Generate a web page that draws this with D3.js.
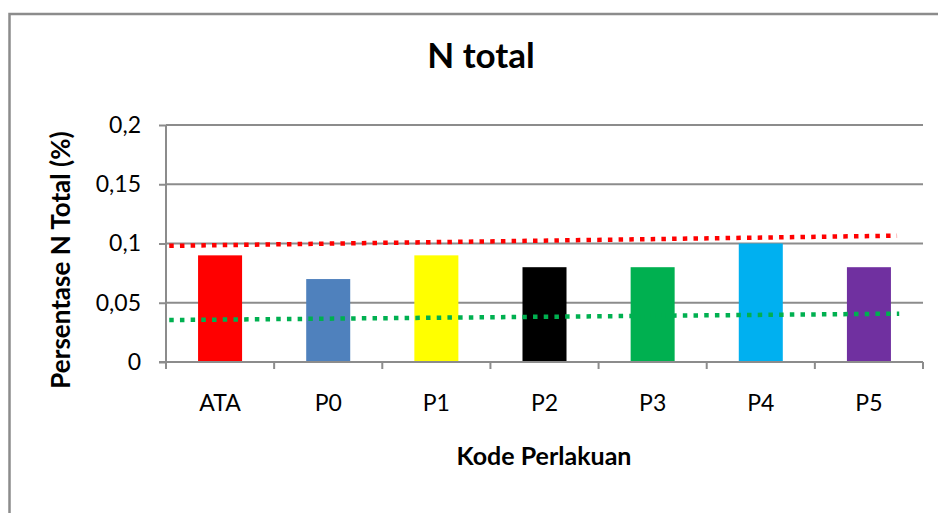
<!DOCTYPE html>
<html>
<head>
<meta charset="utf-8">
<script src="https://cdn.jsdelivr.net/npm/d3@7"></script>
<style>
  body { margin: 0; background: #fff; }
  svg { display: block; font-family: Lato, "Open Sans", sans-serif; }
</style>
</head>
<body>
<div id="chart"></div>
<script>
// data
const categories = ["ATA", "P0", "P1", "P2", "P3", "P4", "P5"];
const values = [0.09, 0.07, 0.09, 0.08, 0.08, 0.1, 0.08];
const barColors = ["#ff0000", "#4f81bd", "#ffff00", "#000000", "#00b050", "#00b0f0", "#7030a0"];
const yTicks = [0, 0.05, 0.1, 0.15, 0.2];
// trendlines: [category index, value] at the two ends
const redTrend = [[-0.47, 0.098], [6.26, 0.1066]];
const greenTrend = [[-0.47, 0.0354], [6.28, 0.0408]];

const W = 938, H = 513;
const plot = { left: 166, right: 923, top: 125, bottom: 362 };

const svg = d3.select("#chart").append("svg")
    .attr("width", W)
    .attr("height", H);

// chart area border (only top and left visible in the crop)
svg.append("path")
    .attr("d", `M9.5,${H} L9.5,14 L${W},14`)
    .attr("fill", "none")
    .attr("stroke", "#8c8c8c")
    .attr("stroke-width", 2.5);

const x = d3.scaleBand()
    .domain(categories)
    .range([plot.left, plot.right])
    .paddingInner(0.593)
    .paddingOuter(0.2965);

const step = (plot.right - plot.left) / categories.length;
// continuous index scale for trendlines (index 0 = centre of first category)
const xi = d3.scaleLinear()
    .domain([0, 1])
    .range([plot.left + step / 2, plot.left + step * 1.5]);

const y = d3.scaleLinear()
    .domain([0, 0.2])
    .range([plot.bottom, plot.top]);

const fmt = d => String(d).replace(".", ",");

// gridlines
svg.append("g")
    .selectAll("line")
    .data(yTicks.filter(d => d > 0))
    .join("line")
    .attr("x1", plot.left)
    .attr("x2", plot.right)
    .attr("y1", d => y(d))
    .attr("y2", d => y(d))
    .attr("stroke", "#8c8c8c")
    .attr("stroke-width", 2);

// y axis
const yAxis = svg.append("g")
    .attr("transform", `translate(${plot.left},0)`)
    .call(d3.axisLeft(y).tickValues(yTicks).tickFormat(fmt).tickSize(7).tickSizeOuter(0));
yAxis.select(".domain").attr("stroke", "#8c8c8c").attr("stroke-width", 2)
    .attr("d", `M0,${plot.top}V${plot.bottom + 7}`);
yAxis.selectAll(".tick line").attr("stroke", "#8c8c8c").attr("stroke-width", 2);
yAxis.selectAll(".tick text")
    .attr("x", -25)
    .attr("font-size", 23)
    .attr("font-family", "Lato, 'Open Sans', sans-serif")
    .attr("fill", "#000");

// bars
svg.append("g")
    .selectAll("rect")
    .data(values)
    .join("rect")
    .attr("x", (d, i) => x(categories[i]))
    .attr("y", d => y(d))
    .attr("width", x.bandwidth())
    .attr("height", d => y(0) - y(d))
    .attr("fill", (d, i) => barColors[i]);

// x axis
const xAxis = svg.append("g")
    .attr("transform", `translate(0,${plot.bottom})`)
    .call(d3.axisBottom(x).tickSize(0).tickPadding(33));
xAxis.select(".domain").remove();
xAxis.append("line")
    .attr("x1", plot.left - 7)
    .attr("x2", plot.right)
    .attr("stroke", "#8c8c8c")
    .attr("stroke-width", 2);
xAxis.selectAll(".bound")
    .data(d3.range(categories.length + 1))
    .join("line")
    .attr("class", "bound")
    .attr("x1", i => plot.left + i * step)
    .attr("x2", i => plot.left + i * step)
    .attr("y1", 0)
    .attr("y2", 7)
    .attr("stroke", "#8c8c8c")
    .attr("stroke-width", 2);
xAxis.selectAll(".tick text")
    .attr("font-size", 23)
    .attr("font-family", "Lato, 'Open Sans', sans-serif")
    .attr("fill", "#000");

// trendlines
const line = d3.line().x(d => xi(d[0])).y(d => y(d[1]));
[[redTrend, "#ff0000"], [greenTrend, "#00b050"]].forEach(([pts, c]) => {
    svg.append("path")
        .attr("d", line(pts))
        .attr("fill", "none")
        .attr("stroke", c)
        .attr("stroke-width", 4.5)
        .attr("stroke-dasharray", "4.5 6.2");
});

// titles
svg.append("text")
    .attr("x", 481)
    .attr("y", 68)
    .attr("text-anchor", "middle")
    .attr("font-size", 35)
    .attr("font-weight", "bold")
    .text("N total");

svg.append("text")
    .attr("x", 544)
    .attr("y", 465)
    .attr("text-anchor", "middle")
    .attr("font-size", 25)
    .attr("font-weight", "bold")
    .text("Kode Perlakuan");

svg.append("text")
    .attr("transform", "translate(70,260) rotate(-90)")
    .attr("text-anchor", "middle")
    .attr("font-size", 26)
    .attr("font-weight", "bold")
    .text("Persentase N Total (%)");
</script>
</body>
</html>
